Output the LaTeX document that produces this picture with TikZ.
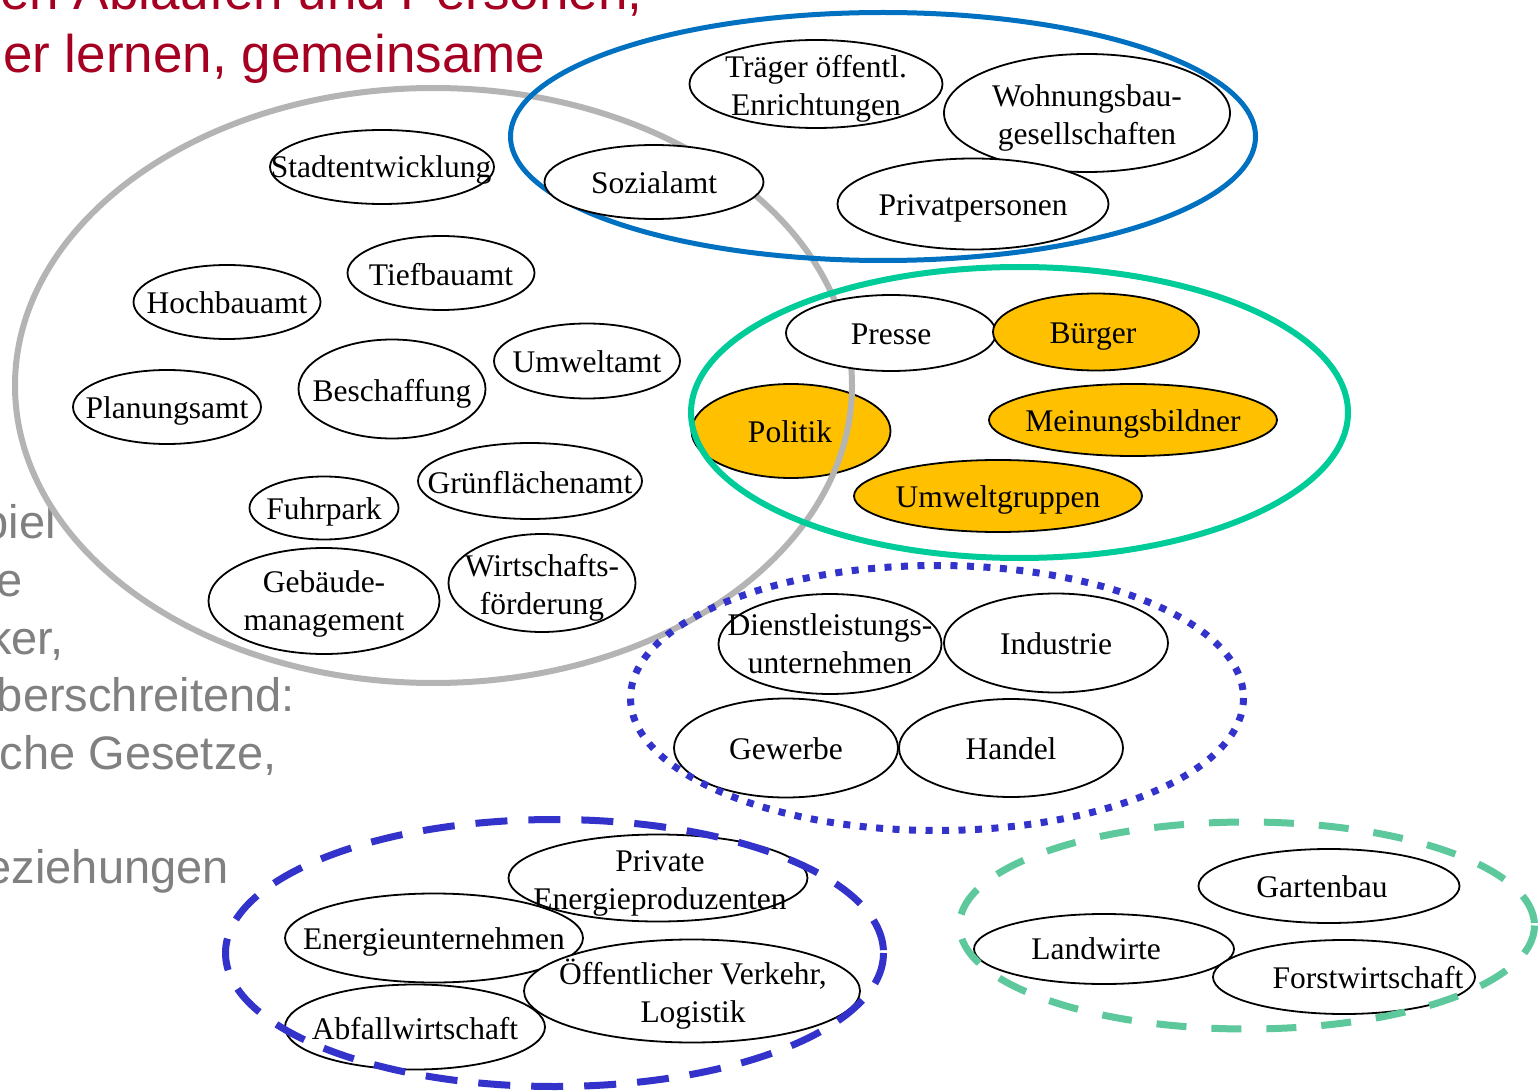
\documentclass[tikz,border=0pt]{standalone}
\usepackage{fontspec}
\setmainfont{Liberation Serif}
\newfontfamily\bgfont{Liberation Sans}
\usetikzlibrary{shapes.geometric}
\definecolor{grayring}{RGB}{180,180,180}
\definecolor{bluering}{RGB}{0,112,192}
\definecolor{tealring}{RGB}{0,204,153}
\definecolor{indigoring}{RGB}{51,51,204}
\definecolor{mintring}{RGB}{92,200,156}
\definecolor{orangefill}{RGB}{255,192,0}
\definecolor{titlered}{RGB}{165,0,33}
\definecolor{bggray}{RGB}{128,128,128}
\begin{document}
\begin{tikzpicture}[x=1pt,y=-1pt,
  ent/.style={ellipse, draw=black, line width=1.8pt, fill=white, inner sep=0pt},
  hot/.style={ent, fill=orangefill},
  sz/.style 2 args={minimum width=#1pt, minimum height=#2pt},
  lbl/.style={font=\fontsize{31.5pt}{38pt}\selectfont, inner sep=0pt, text depth=0pt},
  lbl2/.style={font=\fontsize{31.5pt}{38pt}\selectfont, inner sep=0pt, align=center},
  redtxt/.style={font=\bgfont\fontsize{53pt}{64pt}\selectfont, text=titlered, inner sep=0pt},
  graytxt/.style={font=\bgfont\fontsize{47pt}{58pt}\selectfont, text=bggray, inner sep=0pt, anchor=base east},
  ring/.style={line width=6pt},
  dotring/.style={draw=indigoring, line width=7pt, dash pattern=on 7pt off 9.5pt},
  dashring/.style={line width=7pt, dash pattern=on 32pt off 21pt}
]
\useasboundingbox (0,0) rectangle (1540,1091);
\clip (0,0) rectangle (1540,1091);
\fill[white] (0,0) rectangle (1540,1091);

% background slide text
\node[redtxt, anchor=base west] (t1) at (0,10) {en Abläufen und Personen,};
\node[redtxt, anchor=base west] (t2) at (3,73) {er lernen, gemeinsame};
\node[graytxt] (g1) at (56,538) {piel};
\node[graytxt] (g2) at (23,596) {e};
\node[graytxt] (g3) at (64,654) {ker,};
\node[graytxt] (g4) at (295,711) {berschreitend:};
\node[graytxt] (g5) at (277,769) {che Gesetze,};
\node[graytxt] (g6) at (229,883) {eziehungen};

% Politik lies under the grey ring
\node[hot, sz={199}{94}] (politik) at (791,431) {};
\node[lbl] at ([xshift=-1pt,yshift=-1pt]politik) {Politik};

% group rings
\draw[ring, draw=grayring] (433.5,385.5) ellipse [x radius=418.5, y radius=297.5];
\draw[ring, draw=tealring] (1019.5,412.5) ellipse [x radius=328.5, y radius=145.5];
\draw[line width=5pt, draw=bluering] (883,136.5) ellipse [x radius=372.5, y radius=124];

% blue group
\node[ent, sz={253}{88}] (traeger) at (816,84) {};
\node[lbl2] at ([yshift=-5pt]traeger) {Träger öffentl.\\Enrichtungen};
\node[ent, sz={286}{118}] (wohnung) at (1087,113) {};
\node[lbl2] at ([yshift=-5pt]wohnung) {Wohnungsbau-\\gesellschaften};
\node[ent, sz={219}{74}] (sozial) at (654,182) {};
\node[lbl] at ([yshift=-1pt]sozial) {Sozialamt};
\node[ent, sz={271}{91}] (privat) at (973,204) {};
\node[lbl] at ([yshift=-1pt]privat) {Privatpersonen};

% grey group
\node[ent, sz={224}{74}] (stadt) at (382,167) {};
\node[lbl] at ([xshift=-1pt]stadt) {Stadtentwicklung};
\node[ent, sz={187}{74}] (tief) at (441,273) {};
\node[lbl] at ([yshift=-1pt]tief) {Tiefbauamt};
\node[ent, sz={187}{74}] (hoch) at (227,302) {};
\node[lbl] at ([yshift=-1pt]hoch) {Hochbauamt};
\node[ent, sz={186}{75}] (umwelt) at (587,361) {};
\node[lbl] at ([yshift=-1pt]umwelt) {Umweltamt};
\node[ent, sz={187}{99}] (besch) at (392,389) {};
\node[lbl] at ([yshift=-1pt]besch) {Beschaffung};
\node[ent, sz={188}{74}] (planung) at (167,407) {};
\node[lbl] at ([yshift=-1pt]planung) {Planungsamt};
\node[ent, sz={224}{76}] (gruen) at (530,481) {};
\node[lbl] at ([yshift=-1pt]gruen) {Grünflächenamt};
\node[ent, sz={149}{63}] (fuhr) at (324,508) {};
\node[lbl] at ([yshift=-1pt]fuhr) {Fuhrpark};
\node[ent, sz={231}{106}] (gebaeude) at (324,601) {};
\node[lbl2] at ([yshift=-3pt]gebaeude) {Gebäude-\\management};
\node[ent, sz={187}{98}] (wirt) at (542,583) {};
\node[lbl2] at ([yshift=-5pt]wirt) {Wirtschafts-\\förderung};

% teal group
\node[ent, sz={210}{76}] (presse) at (891,333) {};
\node[lbl] at ([yshift=-1pt]presse) {Presse};
\node[hot, sz={206}{77}] (buerger) at (1096,332) {};
\node[lbl] at ([xshift=-3pt,yshift=-1pt]buerger) {Bürger};
\node[hot, sz={288}{72}] (meinung) at (1133,420) {};
\node[lbl] at ([yshift=-1pt]meinung) {Meinungsbildner};
\node[hot, sz={288}{72}] (umweltgr) at (998,496) {};
\node[lbl] at ([yshift=-1pt]umweltgr) {Umweltgruppen};

% dotted group
\node[ent, sz={223}{100}] (dienst) at (830,644) {};
\node[lbl2] at (dienst) {Dienstleistungs-\\unternehmen};
\node[ent, sz={224}{99}] (industrie) at (1056,643) {};
\node[lbl] at ([yshift=-1pt]industrie) {Industrie};
\node[ent, sz={224}{99}] (gewerbe) at (786,748) {};
\node[lbl] at ([yshift=-1pt]gewerbe) {Gewerbe};
\node[ent, sz={224}{98}] (handel) at (1011,748) {};
\node[lbl] at ([yshift=-1pt]handel) {Handel};

% blue dashed group
\node[ent, sz={299}{87}] (priven) at (658,878) {};
\node[lbl2] at ([xshift=2pt,yshift=-5pt]priven) {Private\\Energieproduzenten};
\node[ent, sz={298}{89}] (energie) at (434,938) {};
\node[lbl] at ([yshift=-1pt]energie) {Energieunternehmen};
\node[ent, sz={336}{103}] (oeff) at (692,991) {};
\node[lbl2] at ([xshift=1pt,yshift=-3pt]oeff) {Öffentlicher Verkehr,\\Logistik};
\node[ent, sz={260}{85}] (abfall) at (415,1027) {};
\node[lbl] at ([yshift=-1pt]abfall) {Abfallwirtschaft};

% green dashed group
\node[ent, sz={261}{74}] (garten) at (1329,886) {};
\node[lbl] at ([xshift=-7pt,yshift=-1pt]garten) {Gartenbau};
\node[ent, sz={260}{70}] (landw) at (1104,949) {};
\node[lbl] at ([xshift=-8pt]landw) {Landwirte};
\node[ent, sz={262}{74}] (forst) at (1344,977) {};
\node[lbl] at ([xshift=24pt]forst) {Forstwirtschaft};

% dotted and dashed rings on top
\draw[dotring] (937,698) ellipse [x radius=306.5, y radius=132.5];
\draw[dashring, draw=indigoring] (554.5,953) ellipse [x radius=329, y radius=133.5];
\draw[dashring, draw=mintring, dash pattern=on 30pt off 25pt] (1247,925.5) ellipse [x radius=287.5, y radius=103.5];
\end{tikzpicture}
\end{document}
